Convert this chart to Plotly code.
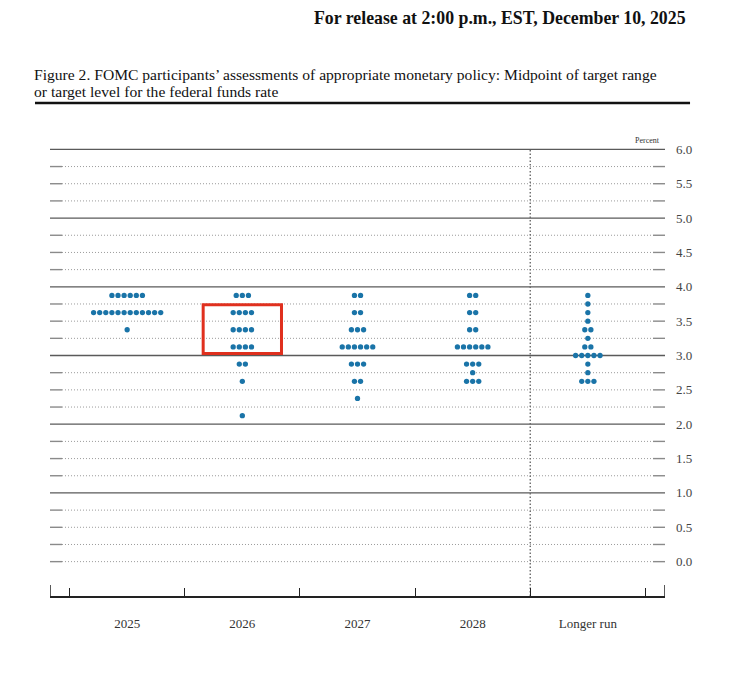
import plotly.graph_objects as go

CATEGORIES = ["2025", "2026", "2027", "2028", "Longer run"]

# (midpoint of target range, number of participants) per column
DOTS_2025 = [(3.875, 6), (3.625, 12), (3.375, 1)]
DOTS_2026 = [(3.875, 3), (3.625, 4), (3.375, 4), (3.125, 4), (2.875, 2), (2.625, 1), (2.125, 1)]
DOTS_2027 = [(3.875, 2), (3.625, 2), (3.375, 3), (3.125, 6), (2.875, 3), (2.625, 2), (2.375, 1)]
DOTS_2028 = [(3.875, 2), (3.625, 2), (3.375, 2), (3.125, 6), (2.875, 3), (2.75, 1), (2.625, 3)]
DOTS_LONGER_RUN = [(3.875, 1), (3.75, 1), (3.625, 1), (3.5, 1), (3.375, 2), (3.25, 1),
                   (3.125, 2), (3.0, 5), (2.875, 1), (2.75, 1), (2.625, 3)]

Y_TICKS = [0.0, 0.5, 1.0, 1.5, 2.0, 2.5, 3.0, 3.5, 4.0, 4.5, 5.0, 5.5, 6.0]
HIGHLIGHT_BOX = (0.66, 1.34, 3.03, 3.74)  # 2026 box, x0 x1 y0 y1

DOT_COLOR = "#1a74a8"
SERIF = "Liberation Serif, Times New Roman, serif"
DOT_STEP = 0.053  # horizontal spacing of dots, in category units
FINE_DOT = "1px,2px"

X_MIN, X_MAX = -0.67, 4.67
Y_MIN, Y_MAX = -0.5, 6.0

xs, ys = [], []
for col, dots in enumerate([DOTS_2025, DOTS_2026, DOTS_2027, DOTS_2028, DOTS_LONGER_RUN]):
    for rate, count in dots:
        for i in range(count):
            xs.append(col + (i - (count - 1) / 2) * DOT_STEP)
            ys.append(rate)

fig = go.Figure()
fig.add_trace(go.Scatter(
    x=xs, y=ys, mode="markers",
    marker=dict(color=DOT_COLOR, size=5.3, line=dict(width=0)),
    hoverinfo="y", showlegend=False,
))

shapes = []
# horizontal rules: solid at whole percents, dotted at quarters
for k in range(25):
    level = k * 0.25
    if k % 4 == 0 and k > 0:
        shapes.append(dict(type="line", xref="paper", yref="y", x0=0, x1=1, y0=level, y1=level,
                           line=dict(color="#5a5a5a", width=1.3), layer="below"))
    else:
        shapes.append(dict(type="line", xref="paper", yref="y", x0=0.0195, x1=0.9805, y0=level, y1=level,
                           line=dict(color="#9a9a9a", width=1, dash=FINE_DOT), layer="below"))
        for a, b in [(0, 0.0195), (0.9805, 1)]:
            shapes.append(dict(type="line", xref="paper", yref="y", x0=a, x1=b, y0=level, y1=level,
                               line=dict(color="#8a8a8a", width=1.4), layer="below"))

# divider before the longer-run column
shapes.append(dict(type="line", xref="x", yref="y", x0=3.5, x1=3.5, y0=Y_MIN, y1=Y_MAX,
                   line=dict(color="#6a6a6a", width=1.4, dash="1.5px,2px"), layer="below"))

# end ticks of the bottom axis
for xe in [X_MIN, X_MAX]:
    shapes.append(dict(type="line", xref="x", yref="y", x0=xe, x1=xe, y0=Y_MIN, y1=Y_MIN + 0.16,
                       line=dict(color="#222222", width=1.5)))

# red highlight box
bx0, bx1, by0, by1 = HIGHLIGHT_BOX
shapes.append(dict(type="rect", xref="x", yref="y", x0=bx0, x1=bx1, y0=by0, y1=by1,
                   line=dict(color="#e0301e", width=3), fillcolor="rgba(0,0,0,0)"))

# heavy rule under the title
shapes.append(dict(type="line", xref="paper", yref="paper", x0=-0.0244, x1=1.0407, y0=1.1004, y1=1.1004,
                   line=dict(color="#111111", width=2.5)))

title_font = dict(family=SERIF, size=15.6, color="#111111")
annotations = [
    dict(text="<b>For release at 2:00 p.m., EST, December 10, 2025</b>",
         xref="paper", yref="paper", x=1.0374, y=1.29, xanchor="right", yanchor="middle",
         showarrow=False, font=dict(family=SERIF, size=17.8, color="#111111")),
    dict(text="Figure 2. FOMC participants’ assessments of appropriate monetary policy: Midpoint of target range",
         xref="paper", yref="paper", x=-0.0293, y=1.163, xanchor="left", yanchor="middle", align="left",
         showarrow=False, font=title_font),
    dict(text="or target level for the federal funds rate",
         xref="paper", yref="paper", x=-0.0293, y=1.127, xanchor="left", yanchor="middle", align="left",
         showarrow=False, font=title_font),
    dict(text="Percent", xref="paper", yref="paper", x=0.995, y=1.0, xanchor="right", yanchor="bottom",
         yshift=1, showarrow=False, font=dict(family=SERIF, size=8, color="#333333")),
]

fig.update_layout(
    width=740, height=674,
    margin=dict(l=42, r=83, t=140, b=86),
    paper_bgcolor="white", plot_bgcolor="white",
    shapes=shapes, annotations=annotations,
    xaxis=dict(
        range=[X_MIN, X_MAX], tickvals=list(range(len(CATEGORIES))), ticktext=CATEGORIES,
        ticks="", showgrid=False, zeroline=False,
        showline=True, linecolor="#222222", linewidth=1.5,
        tickfont=dict(family=SERIF, size=13, color="#333333"), ticklabelstandoff=15,
        minor=dict(ticks="inside", tick0=-0.5, dtick=1, ticklen=8, tickcolor="#222222", tickwidth=1.3,
                   showgrid=False),
    ),
    yaxis=dict(
        range=[Y_MIN, Y_MAX + 0.02], side="right", tickvals=Y_TICKS,
        ticktext=[f"{v:.1f}" for v in Y_TICKS], ticks="", showgrid=False, zeroline=False,
        showline=False, tickfont=dict(family=SERIF, size=13, color="#444444"), ticklabelstandoff=10,
    ),
)

fig.write_html("out.html")
